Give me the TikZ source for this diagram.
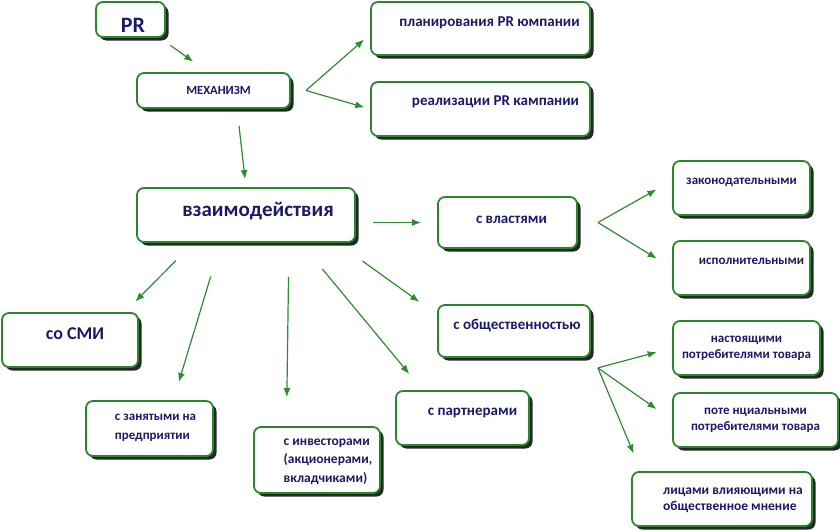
\documentclass[tikz,border=0pt]{standalone}
\usepackage{fontspec}
\setmainfont{Carlito}
\usetikzlibrary{arrows.meta,shadows}
\definecolor{boxgreen}{RGB}{40,135,40}
\definecolor{arrowgreen}{RGB}{45,140,45}
\definecolor{textnavy}{RGB}{26,26,105}

\begin{document}
\begin{tikzpicture}[x=1pt,y=-1pt,
    box/.style={draw=boxgreen, line width=1.8pt, rounded corners=7pt, fill=white,
      drop shadow={shadow xshift=3.5pt, shadow yshift=-3.5pt, fill=black!85, opacity=1},
      text=textnavy, inner sep=0pt},
    fs/.style 2 args={font=\bfseries\fontsize{#1}{#2}\selectfont},
    lift/.style={text height=10pt, text depth={(3+2*#1)*1pt}},
    nudge/.style={execute at begin node={\hspace*{#1}}},
    link/.style={draw=arrowgreen, line width=1.2pt, ->, >={Latex[length=9pt,width=7pt]}}]
  \useasboundingbox (0,0) rectangle (840,530);

  % boxes
  \node[box, fs={22}{26}, text height=26pt, text depth=0pt, nudge=5pt, minimum width=69pt, minimum height=35pt] (pr) at (130.5,19.5) {PR};
  \node[box, fs={12.5}{15}, nudge=10pt, minimum width=153pt, minimum height=35pt] (mech) at (213.5,90.5) {МЕХАНИЗМ};
  \node[box, fs={15}{18}, lift=5, nudge=18pt, minimum width=219pt, minimum height=53pt] (plan) at (480.5,28.5) {планирования PR юмпании};
  \node[box, fs={15}{18}, lift=7, nudge=30pt, minimum width=219pt, minimum height=54pt] (real) at (480.5,109) {реализации PR кампании};
  \node[box, fs={21}{25}, lift=2, nudge=24pt, minimum width=218pt, minimum height=54pt] (inter) at (246,215) {взаимодействия};
  \node[box, fs={15}{18}, lift=3, nudge=8pt, minimum width=139pt, minimum height=51pt] (gov) at (507.5,222.5) {с властями};
  \node[box, fs={13}{16}, lift=7, minimum width=137pt, minimum height=54pt] (legis) at (741.5,188) {законодательными};
  \node[box, fs={13}{16}, lift=7, nudge=20pt, minimum width=137pt, minimum height=54pt] (exec) at (741.5,268) {исполнительными};
  \node[box, fs={18}{22}, lift=4, nudge=10pt, minimum width=136pt, minimum height=54pt] (media) at (70,340) {со СМИ};
  \node[box, fs={15}{18}, lift=5, nudge=6pt, minimum width=152pt, minimum height=52pt] (public) at (514,331) {с общественностью};
  \node[box, fs={15}{18}, lift=6, nudge=20pt, minimum width=133pt, minimum height=54pt] (partner) at (462.5,418) {с партнерами};
  \node[box, fs={13}{16}, align=center, minimum width=147pt, minimum height=54pt] (current) at (746.5,348) {настоящими\\потребителями товара};
  \node[box, fs={13}{16}, align=center, minimum width=165pt, minimum height=54pt] (potential) at (755.5,420) {поте нциальными\\потребителями товара};
  \node[box, fs={13.5}{16}, nudge=22pt, minimum width=180pt, minimum height=54pt] (influ) at (722,499)
    {\begin{tabular}{@{}l@{}}лицами влияющими на\\общественное мнение\end{tabular}};
  \node[box, fs={13}{19}, nudge=12pt, lift=3, minimum width=127pt, minimum height=55pt] (staff) at (149.5,428.5)
    {\begin{tabular}{@{}l@{}}с занятыми на\\предприятии\end{tabular}};
  \node[box, fs={13.5}{18.5}, nudge=22pt, minimum width=126pt, minimum height=66pt] (invest) at (317,460)
    {\begin{tabular}{@{}l@{}}с инвесторами\\(акционерами,\\вкладчиками)\end{tabular}};

  % connectors
  \draw[link, shorten <=13pt, shorten >=18pt] (pr.-32) -- (mech.107);
  \coordinate (fork1) at ([xshift=15pt]mech.east);
  \draw[link, shorten >=8pt] (fork1) -- (plan.183);
  \draw[link, shorten >=6pt] (fork1) -- (real.west);
  \draw[link, shorten <=17pt, shorten >=8pt] (mech.-38) -- (inter.north);
  \draw[link, shorten <=17pt, shorten >=16pt] (inter.east |- gov.west) -- (gov.west);
  \coordinate (fork2) at ([xshift=20pt]gov.east);
  \draw[link, shorten >=18pt] (fork2) -- (legis.174);
  \draw[link, shorten >=18pt] (fork2) -- (exec.west);
  \draw[link, shorten <=25pt, shorten >=15pt] (inter.208) -- (media.27);
  \draw[link, shorten <=35pt, shorten >=19pt] (inter.228) -- (staff.50);
  \draw[link, shorten <=34pt, shorten >=29pt] (inter.-33) -- (invest.132);
  \draw[link, shorten <=34pt, shorten >=21pt] (inter.-27) -- (partner.145);
  \draw[link, shorten <=31pt, shorten >=22pt] (inter.-17) -- (public.168);
  \coordinate (fork3) at ([xshift=7pt,yshift=-10pt]public.south east);
  \draw[link, shorten >=16pt] (fork3) -- (current.west);
  \draw[link, shorten >=19pt] (fork3) -- (potential.west);
  \draw[link, shorten >=19pt] (fork3) -- (influ.161);
\end{tikzpicture}
\end{document}
